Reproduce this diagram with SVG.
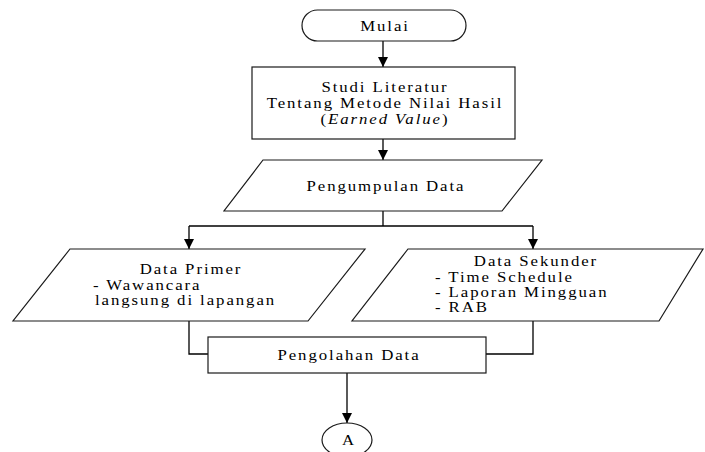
<svg xmlns="http://www.w3.org/2000/svg" width="705" height="452" viewBox="0 0 705 452">
<style>
.s{fill:#fff;stroke:#1a1a1a;stroke-width:1.2}
.c{fill:none;stroke:#000;stroke-width:1.3}
text{font-family:"Liberation Serif","Times New Roman",serif;font-size:14px;fill:#000;letter-spacing:1.6px;transform-box:fill-box;transform-origin:center;transform:scaleX(1.2)}
text.l{transform-origin:left center}
.m{text-anchor:middle}
</style>
<defs>
<marker id="ah" markerUnits="userSpaceOnUse" markerWidth="10" markerHeight="10" refX="10" refY="5" orient="auto">
<path d="M0,0 L10,5 L0,10 z" fill="#000"/>
</marker>
</defs>
<rect width="705" height="452" fill="#fff"/>
<g id="connectors">
<line class="c" x1="383" y1="41" x2="383" y2="67" marker-end="url(#ah)"/>
<line class="c" x1="383" y1="139" x2="383" y2="160" marker-end="url(#ah)"/>
<polyline class="c" points="383,211 383,226"/>
<polyline class="c" points="189,226 533,226"/>
<line class="c" x1="189" y1="226" x2="189" y2="249" marker-end="url(#ah)"/>
<line class="c" x1="533" y1="226" x2="533" y2="249" marker-end="url(#ah)"/>
<polyline class="c" points="189,321 189,354 208,354"/>
<polyline class="c" points="533,321 533,354 486,354"/>
<line class="c" x1="347" y1="373" x2="347" y2="423" marker-end="url(#ah)"/>
</g>
<g id="mulai">
<rect class="s" x="302" y="10" width="164" height="31" rx="15.5" ry="15.5"/>
<text class="m" x="385" y="31">Mulai</text>
</g>
<g id="studi">
<rect class="s" x="252" y="67" width="263" height="72"/>
<text class="m" x="385" y="92">Studi Literatur</text>
<text class="m" x="385" y="108">Tentang Metode Nilai Hasil</text>
<text class="m" x="385" y="124">(<tspan font-style="italic">Earned Value</tspan>)</text>
</g>
<g id="pengumpulan">
<polygon class="s" points="263,160 542,160 502,211 224,211"/>
<text class="m" x="386" y="191">Pengumpulan Data</text>
</g>
<g id="primer">
<polygon class="s" points="70,249 365,249 308,321 13,321"/>
<text class="m" x="191" y="274">Data Primer</text>
<text class="l" x="93" y="290">- Wawancara</text>
<text class="l" x="95" y="305">langsung di lapangan</text>
</g>
<g id="sekunder">
<polygon class="s" points="408,249 703,249 659,321 352,321"/>
<text class="m" x="536" y="266">Data Sekunder</text>
<text class="l" x="435" y="282">- Time Schedule</text>
<text class="l" x="435" y="297">- Laporan Mingguan</text>
<text class="l" x="435" y="312">- RAB</text>
</g>
<g id="pengolahan">
<rect class="s" x="208" y="337" width="278" height="36"/>
<text class="m" x="349" y="360">Pengolahan Data</text>
</g>
<g id="a">
<ellipse class="s" cx="347" cy="440" rx="25" ry="17"/>
<text class="m" x="349" y="445">A</text>
</g>
</svg>
